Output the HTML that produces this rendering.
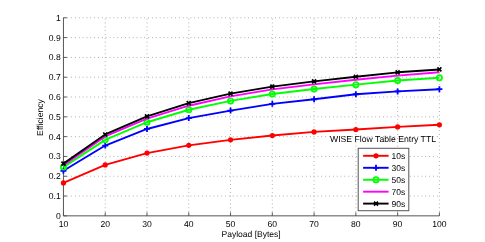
<!DOCTYPE html>
<html><head><meta charset="utf-8"><style>html,body{margin:0;padding:0;background:#fff}svg{display:block;will-change:transform}text{font-family:"Liberation Sans",sans-serif;font-size:8.6px;fill:#000;text-rendering:geometricPrecision}</style></head><body>
<svg width="485" height="242" viewBox="0 0 485 242">
<rect width="485" height="242" fill="#fff"/>
<path d="M105.22 215.85V17.80M146.99 215.85V17.80M188.77 215.85V17.80M230.54 215.85V17.80M272.31 215.85V17.80M314.08 215.85V17.80M355.86 215.85V17.80M397.63 215.85V17.80M439.40 215.85V17.80M63.45 196.04H439.40M63.45 176.24H439.40M63.45 156.44H439.40M63.45 136.63H439.40M63.45 116.83H439.40M63.45 97.02H439.40M63.45 77.22H439.40M63.45 57.41H439.40M63.45 37.61H439.40M63.45 17.80H439.40" stroke="#a0a0a0" stroke-width="1" stroke-dasharray="0.8 3.05" fill="none"/>
<path d="M63.45 17.80V215.85H439.40M63.45 215.85v-3.40M105.22 215.85v-3.40M146.99 215.85v-3.40M188.77 215.85v-3.40M230.54 215.85v-3.40M272.31 215.85v-3.40M314.08 215.85v-3.40M355.86 215.85v-3.40M397.63 215.85v-3.40M439.40 215.85v-3.40M63.45 215.85h3.40M63.45 196.04h3.40M63.45 176.24h3.40M63.45 156.44h3.40M63.45 136.63h3.40M63.45 116.83h3.40M63.45 97.02h3.40M63.45 77.22h3.40M63.45 57.41h3.40M63.45 37.61h3.40M63.45 17.80h3.40" stroke="#555555" stroke-width="1" fill="none"/>
<text x="63.45" y="227.1" text-anchor="middle">10</text>
<text x="105.22" y="227.1" text-anchor="middle">20</text>
<text x="146.99" y="227.1" text-anchor="middle">30</text>
<text x="188.77" y="227.1" text-anchor="middle">40</text>
<text x="230.54" y="227.1" text-anchor="middle">50</text>
<text x="272.31" y="227.1" text-anchor="middle">60</text>
<text x="314.08" y="227.1" text-anchor="middle">70</text>
<text x="355.86" y="227.1" text-anchor="middle">80</text>
<text x="397.63" y="227.1" text-anchor="middle">90</text>
<text x="439.40" y="227.1" text-anchor="middle">100</text>
<text x="60.7" y="218.85" text-anchor="end">0</text>
<text x="60.7" y="199.04" text-anchor="end">0.1</text>
<text x="60.7" y="179.24" text-anchor="end">0.2</text>
<text x="60.7" y="159.44" text-anchor="end">0.3</text>
<text x="60.7" y="139.63" text-anchor="end">0.4</text>
<text x="60.7" y="119.83" text-anchor="end">0.5</text>
<text x="60.7" y="100.02" text-anchor="end">0.6</text>
<text x="60.7" y="80.22" text-anchor="end">0.7</text>
<text x="60.7" y="60.41" text-anchor="end">0.8</text>
<text x="60.7" y="40.61" text-anchor="end">0.9</text>
<text x="60.7" y="20.80" text-anchor="end">1</text>
<text x="251.1" y="236.9" text-anchor="middle" style="font-size:8.53px">Payload [Bytes]</text>
<text transform="translate(42.8 117.5) rotate(-90)" text-anchor="middle" style="font-size:8.65px">Efficiency</text>
<text x="436" y="142.3" text-anchor="end" style="font-size:8.66px">WISE Flow Table Entry TTL</text>
<polyline points="63.45,182.93 105.22,164.94 146.99,153.08 188.77,145.37 230.54,139.83 272.31,135.48 314.08,131.92 355.86,129.55 397.63,126.88 439.40,124.81" fill="none" stroke="#ff0000" stroke-width="1.9" stroke-linejoin="round"/>
<circle cx="63.45" cy="182.93" r="2.6" fill="#ff0000"/>
<circle cx="105.22" cy="164.94" r="2.6" fill="#ff0000"/>
<circle cx="146.99" cy="153.08" r="2.6" fill="#ff0000"/>
<circle cx="188.77" cy="145.37" r="2.6" fill="#ff0000"/>
<circle cx="230.54" cy="139.83" r="2.6" fill="#ff0000"/>
<circle cx="272.31" cy="135.48" r="2.6" fill="#ff0000"/>
<circle cx="314.08" cy="131.92" r="2.6" fill="#ff0000"/>
<circle cx="355.86" cy="129.55" r="2.6" fill="#ff0000"/>
<circle cx="397.63" cy="126.88" r="2.6" fill="#ff0000"/>
<circle cx="439.40" cy="124.81" r="2.6" fill="#ff0000"/>
<polyline points="63.45,170.77 105.22,145.56 146.99,128.96 188.77,118.08 230.54,110.57 272.31,103.85 314.08,99.30 355.86,94.26 397.63,91.39 439.40,89.22" fill="none" stroke="#0000ff" stroke-width="1.9" stroke-linejoin="round"/>
<path d="M60.45 170.77h6M63.45 167.77v6" stroke="#0000ff" stroke-width="1.8" fill="none"/>
<path d="M102.22 145.56h6M105.22 142.56v6" stroke="#0000ff" stroke-width="1.8" fill="none"/>
<path d="M143.99 128.96h6M146.99 125.96v6" stroke="#0000ff" stroke-width="1.8" fill="none"/>
<path d="M185.77 118.08h6M188.77 115.08v6" stroke="#0000ff" stroke-width="1.8" fill="none"/>
<path d="M227.54 110.57h6M230.54 107.57v6" stroke="#0000ff" stroke-width="1.8" fill="none"/>
<path d="M269.31 103.85h6M272.31 100.85v6" stroke="#0000ff" stroke-width="1.8" fill="none"/>
<path d="M311.08 99.30h6M314.08 96.30v6" stroke="#0000ff" stroke-width="1.8" fill="none"/>
<path d="M352.86 94.26h6M355.86 91.26v6" stroke="#0000ff" stroke-width="1.8" fill="none"/>
<path d="M394.63 91.39h6M397.63 88.39v6" stroke="#0000ff" stroke-width="1.8" fill="none"/>
<path d="M436.40 89.22h6M439.40 86.22v6" stroke="#0000ff" stroke-width="1.8" fill="none"/>
<polyline points="63.45,167.11 105.22,139.83 146.99,122.24 188.77,109.78 230.54,100.88 272.31,93.96 314.08,89.02 355.86,84.65 397.63,80.52 439.40,77.75" fill="none" stroke="#00ff00" stroke-width="1.9" stroke-linejoin="round"/>
<circle cx="63.45" cy="167.11" r="2.65" fill="none" stroke="#00ff00" stroke-width="1.7"/>
<circle cx="105.22" cy="139.83" r="2.65" fill="none" stroke="#00ff00" stroke-width="1.7"/>
<circle cx="146.99" cy="122.24" r="2.65" fill="none" stroke="#00ff00" stroke-width="1.7"/>
<circle cx="188.77" cy="109.78" r="2.65" fill="none" stroke="#00ff00" stroke-width="1.7"/>
<circle cx="230.54" cy="100.88" r="2.65" fill="none" stroke="#00ff00" stroke-width="1.7"/>
<circle cx="272.31" cy="93.96" r="2.65" fill="none" stroke="#00ff00" stroke-width="1.7"/>
<circle cx="314.08" cy="89.02" r="2.65" fill="none" stroke="#00ff00" stroke-width="1.7"/>
<circle cx="355.86" cy="84.65" r="2.65" fill="none" stroke="#00ff00" stroke-width="1.7"/>
<circle cx="397.63" cy="80.52" r="2.65" fill="none" stroke="#00ff00" stroke-width="1.7"/>
<circle cx="439.40" cy="77.75" r="2.65" fill="none" stroke="#00ff00" stroke-width="1.7"/>
<polyline points="63.45,165.14 105.22,136.47 146.99,118.68 188.77,105.71 230.54,96.34 272.31,89.42 314.08,84.38 355.86,79.71 397.63,75.58 439.40,72.32" fill="none" stroke="#ff00ff" stroke-width="1.9" stroke-linejoin="round"/>










<polyline points="63.45,163.65 105.22,134.49 146.99,116.30 188.77,103.14 230.54,93.57 272.31,86.65 314.08,81.41 355.86,76.74 397.63,72.32 439.40,69.45" fill="none" stroke="#000000" stroke-width="1.9" stroke-linejoin="round"/>
<path d="M61.45 161.65l4 4M61.45 165.65l4 -4" stroke="#000000" stroke-width="1.7" fill="none"/>
<path d="M103.22 132.49l4 4M103.22 136.49l4 -4" stroke="#000000" stroke-width="1.7" fill="none"/>
<path d="M144.99 114.30l4 4M144.99 118.30l4 -4" stroke="#000000" stroke-width="1.7" fill="none"/>
<path d="M186.77 101.14l4 4M186.77 105.14l4 -4" stroke="#000000" stroke-width="1.7" fill="none"/>
<path d="M228.54 91.57l4 4M228.54 95.57l4 -4" stroke="#000000" stroke-width="1.7" fill="none"/>
<path d="M270.31 84.65l4 4M270.31 88.65l4 -4" stroke="#000000" stroke-width="1.7" fill="none"/>
<path d="M312.08 79.41l4 4M312.08 83.41l4 -4" stroke="#000000" stroke-width="1.7" fill="none"/>
<path d="M353.86 74.74l4 4M353.86 78.74l4 -4" stroke="#000000" stroke-width="1.7" fill="none"/>
<path d="M395.63 70.32l4 4M395.63 74.32l4 -4" stroke="#000000" stroke-width="1.7" fill="none"/>
<path d="M437.40 67.45l4 4M437.40 71.45l4 -4" stroke="#000000" stroke-width="1.7" fill="none"/>
<rect x="358.20" y="148.30" width="50.60" height="62.40" fill="#fff" stroke="#555555" stroke-width="1"/>
<path d="M363.1 155.80H388.6" stroke="#ff0000" stroke-width="1.9" fill="none"/>
<circle cx="376.00" cy="155.80" r="2.6" fill="#ff0000"/>
<text x="391.6" y="158.80" style="font-size:8.5px">10s</text>
<path d="M363.1 167.80H388.6" stroke="#0000ff" stroke-width="1.9" fill="none"/>
<path d="M373.00 167.80h6M376.00 164.80v6" stroke="#0000ff" stroke-width="1.8" fill="none"/>
<text x="391.6" y="170.80" style="font-size:8.5px">30s</text>
<path d="M363.1 179.80H388.6" stroke="#00ff00" stroke-width="1.9" fill="none"/>
<circle cx="376.00" cy="179.80" r="2.65" fill="none" stroke="#00ff00" stroke-width="1.7"/>
<text x="391.6" y="182.80" style="font-size:8.5px">50s</text>
<path d="M363.1 191.70H388.6" stroke="#ff00ff" stroke-width="1.9" fill="none"/>

<text x="391.6" y="194.70" style="font-size:8.5px">70s</text>
<path d="M363.1 203.60H388.6" stroke="#000000" stroke-width="1.9" fill="none"/>
<path d="M374.00 201.60l4 4M374.00 205.60l4 -4" stroke="#000000" stroke-width="1.7" fill="none"/>
<text x="391.6" y="206.60" style="font-size:8.5px">90s</text>
</svg></body></html>
